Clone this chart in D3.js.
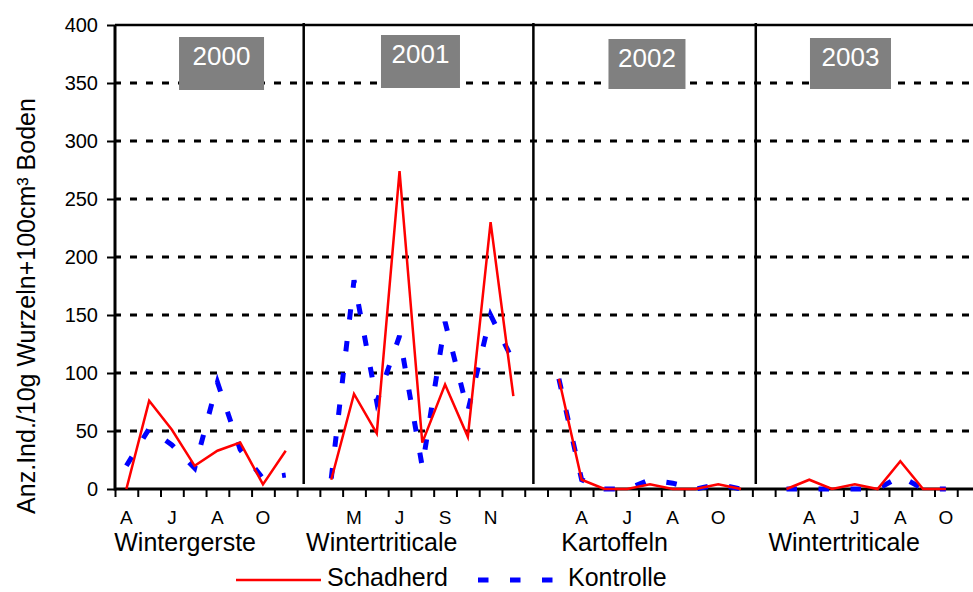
<!DOCTYPE html>
<html>
<head>
<meta charset="utf-8">
<script src="https://cdn.jsdelivr.net/npm/d3@7"></script>
<style>
    body { margin: 0; background: #fff; }
    svg text { font-family: "Liberation Sans", Arial, sans-serif; fill: #000; }
</style>
</head>
<body>
<div id="drawing_region"></div>
<script>
// values per sampling date (38 slots, null = no sample / gap between years)
const schadherd = [0, 76, 51, 20, 33, 40, 4, 33, null,
    8, 82, 48, 274, 40, 90, 45, 230, 80, null,
    95, 8, 0, 0, 4, 0, 0, 4, 0, null,
    0, 8, 0, 4, 0, 24, 0, 0, null];
const kontrolle = [20, 52, 38, 18, 92, 34, 9, 12, null,
    9, 180, 75, 132, 19, 144, 67, 150, 110, null,
    95, 8, 0, 0, 8, 5, 0, 4, 0, null,
    0, 0, 0, 0, 0, 11, 0, 0, null];

const monthCats = [0, 2, 4, 6, 10, 12, 14, 16, 20, 22, 24, 26, 30, 32, 34, 36];
const monthLabels = ['A', 'J', 'A', 'O', 'M', 'J', 'S', 'N', 'A', 'J', 'A', 'O', 'A', 'J', 'A', 'O'];
const crops = ['Wintergerste', 'Wintertriticale', 'Kartoffeln', 'Wintertriticale'];
const years = ['2000', '2001', '2002', '2003'];
const yTicks = [0, 50, 100, 150, 200, 250, 300, 350, 400];
const seriesNames = ['Schadherd', 'Kontrolle'];

var config = {
    parent: '#drawing_region',
    width: 973,
    height: 592,
    margin: {top: 25, left: 115},
    inner_width: 865,   // 38 slots, right end cut off by the picture edge
    inner_height: 464
};

// layout of the annotations, in slot units of the x scale
const layout = {
    dividers: [8.29, 18.38, 28.15],
    cropPos: [3.08, 11.72, 21.95, 32.03],
    yearPos: [4.68, 13.42, 23.37, 32.31],
    yearW: [85, 79, 77, 81],
    yearTop: [12, 10, 14, 13],
    yearH: [53, 53, 50, 51]
};

class YearChart {

    constructor( config ) {
        this.config = config;
        this.init();
    }

    init() {
        let self = this;

        self.svg = d3.select( self.config.parent )
            .append('svg')
            .attr('width', self.config.width)
            .attr('height', self.config.height);

        self.chart = self.svg.append('g')
            .attr('transform', `translate(${self.config.margin.left}, ${self.config.margin.top})`);

        self.xscale = d3.scaleLinear().domain([0, 38]).range([0, self.config.inner_width]);
        self.yscale = d3.scaleLinear().domain([0, 400]).range([self.config.inner_height, 0]);

        self.line = d3.line()
            .defined( d => d != null )
            .x( (d, i) => self.xscale(i + 0.5) )
            .y( d => self.yscale(d) );
    }

    render() {
        let self = this;
        const h = self.config.inner_height;
        const W = self.config.inner_width;

        // gridlines
        self.chart.append('g').selectAll('line')
            .data(yTicks.filter(v => v > 0 && v < 400))
            .join('line')
            .attr('x1', 0).attr('x2', W)
            .attr('y1', d => self.yscale(d)).attr('y2', d => self.yscale(d))
            .attr('stroke', '#000')
            .attr('stroke-width', 3)
            .attr('stroke-dasharray', '7,9')
            .attr('stroke-dashoffset', 1);

        // top border (400)
        self.chart.append('line')
            .attr('x1', 0).attr('x2', W)
            .attr('y1', self.yscale(400)).attr('y2', self.yscale(400))
            .attr('stroke', '#000').attr('stroke-width', 2.5);

        // year dividers
        self.chart.append('g').selectAll('line')
            .data(layout.dividers)
            .join('line')
            .attr('x1', d => self.xscale(d)).attr('x2', d => self.xscale(d))
            .attr('y1', -2).attr('y2', h - 5)
            .attr('stroke', '#000').attr('stroke-width', 2.5);

        // year boxes
        const yb = self.chart.append('g').selectAll('g')
            .data(years)
            .join('g')
            .attr('transform', (d, i) => `translate(${self.xscale(layout.yearPos[i])}, ${layout.yearTop[i]})`);
        yb.append('rect')
            .attr('x', (d, i) => -layout.yearW[i] / 2)
            .attr('y', 0)
            .attr('width', (d, i) => layout.yearW[i])
            .attr('height', (d, i) => layout.yearH[i])
            .attr('fill', '#808080');
        yb.append('text')
            .attr('text-anchor', 'middle')
            .attr('y', 28)
            .style('font-size', '26px')
            .style('fill', '#fff')
            .text(d => d);

        // y axis
        const yaxis = d3.axisLeft(self.yscale).tickValues(yTicks).tickSize(8).tickPadding(9);
        const yg = self.chart.append('g').call(yaxis);
        yg.select('.domain').remove();
        yg.selectAll('.tick line').attr('stroke-width', 2);
        yg.selectAll('.tick text').style('font-size', '20px').attr('font-family', null);

        // x axis, ticks between the sampling slots
        const xaxis = d3.axisBottom(self.xscale).tickValues(d3.range(0, 39)).tickSize(8).tickFormat('');
        const xg = self.chart.append('g').attr('transform', `translate(0, ${h})`).call(xaxis);
        xg.select('.domain').remove();
        xg.selectAll('.tick line').attr('stroke-width', 2);

        self.chart.append('line')
            .attr('x1', 0).attr('x2', W).attr('y1', h).attr('y2', h)
            .attr('stroke', '#000').attr('stroke-width', 3);
        self.chart.append('line')
            .attr('x1', 0).attr('x2', 0).attr('y1', 0).attr('y2', h + 1.5)
            .attr('stroke', '#000').attr('stroke-width', 3);

        // month letters
        self.chart.append('g').selectAll('text')
            .data(monthCats)
            .join('text')
            .attr('x', d => self.xscale(d + 0.5))
            .attr('y', h + 35)
            .attr('text-anchor', 'middle')
            .style('font-size', '19px')
            .text((d, i) => monthLabels[i]);

        // crop names
        self.chart.append('g').selectAll('text')
            .data(crops)
            .join('text')
            .attr('x', (d, i) => self.xscale(layout.cropPos[i]))
            .attr('y', h + 62)
            .attr('text-anchor', 'middle')
            .style('font-size', '25px')
            .text(d => d);

        // series
        self.chart.append('path')
            .attr('d', self.line(kontrolle))
            .attr('stroke', '#0000ff')
            .attr('stroke-width', 5)
            .attr('stroke-dasharray', '10.5,21.5')
            .attr('fill', 'none');
        self.chart.append('path')
            .attr('d', self.line(schadherd))
            .attr('stroke', '#ff0000')
            .attr('stroke-width', 2.5)
            .attr('fill', 'none');

        // y label
        self.svg.append('text')
            .attr('transform', 'translate(35, 306) rotate(-90)')
            .attr('text-anchor', 'middle')
            .style('font-size', '25px')
            .text('Anz.Ind./10g Wurzeln+100cm³ Boden');

        // legend
        const lg = self.svg.append('g');
        lg.append('line')
            .attr('x1', 236).attr('x2', 321).attr('y1', 580).attr('y2', 580)
            .attr('stroke', '#ff0000').attr('stroke-width', 2.5);
        lg.append('text').attr('x', 327).attr('y', 586)
            .style('font-size', '25px').text(seriesNames[0]);
        lg.append('line')
            .attr('x1', 478).attr('x2', 554).attr('y1', 580).attr('y2', 580)
            .attr('stroke', '#0000ff').attr('stroke-width', 5)
            .attr('stroke-dasharray', '10.5,21.5');
        lg.append('text').attr('x', 568).attr('y', 586)
            .style('font-size', '25px').text(seriesNames[1]);
    }
}

const chart = new YearChart( config );
chart.render();
</script>
</body>
</html>
